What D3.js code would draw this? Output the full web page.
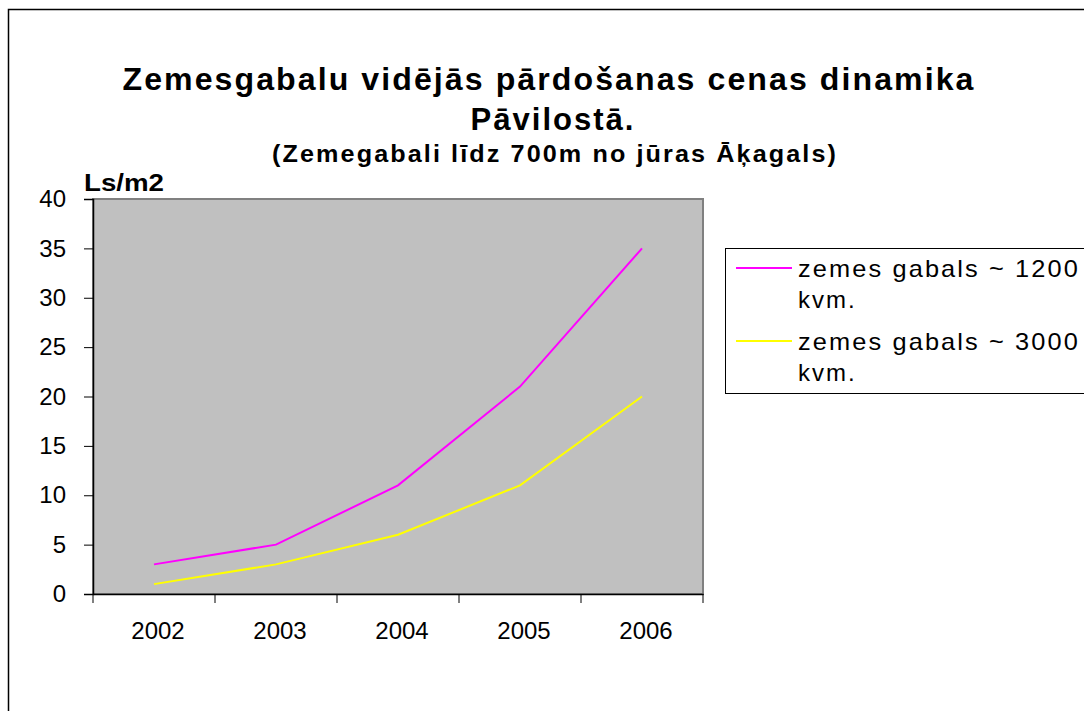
<!DOCTYPE html>
<html>
<head>
<meta charset="utf-8">
<script src="https://cdn.jsdelivr.net/npm/d3@7"></script>
<style>
  body { margin: 0; background: #fff; }
  text { font-family: "Liberation Sans", Arial, sans-serif; }
</style>
</head>
<body>
<div id="chart"></div>
<script>
let years = ["2002", "2003", "2004", "2005", "2006"];
let seriesNames = ["zemes gabals ~ 1200 kvm.", "zemes gabals ~ 3000 kvm."];
let values1200 = [3, 5, 11, 21, 35];
let values3000 = [1, 3, 6, 11, 20];
let yTicks = [0, 5, 10, 15, 20, 25, 30, 35, 40];
let seriesColors = ["#ff00ff", "#ffff00"];

let exteriorWidth  = 1084,
    exteriorHeight = 711;

let plot = { left: 93, top: 199, right: 703, bottom: 594 };

let svg =
  d3.select("#chart")
    .append("svg")
      .attr("width", exteriorWidth)
      .attr("height", exteriorHeight);

// outer chart frame (cut off at right and bottom)
svg.append("path")
    .attr("d", "M8.5,720 V9.5 H1100")
    .attr("fill", "none")
    .attr("stroke", "#000")
    .attr("stroke-width", 1.5);

// titles, stretched the way the original renders them
let titles = svg.append("g")
    .attr("font-weight", "bold")
    .attr("text-anchor", "middle")
    .attr("fill", "#000");

titles.append("text")
    .attr("x", 549).attr("y", 90)
    .attr("font-size", 31)
    .attr("letter-spacing", 2)
    .attr("textLength", 853)
    .attr("lengthAdjust", "spacingAndGlyphs")
    .text("Zemesgabalu vidējās pārdošanas cenas dinamika");

titles.append("text")
    .attr("x", 553).attr("y", 130)
    .attr("font-size", 31)
    .attr("letter-spacing", 2)
    .attr("textLength", 165)
    .attr("lengthAdjust", "spacingAndGlyphs")
    .text("Pāvilostā.");

titles.append("text")
    .attr("x", 555).attr("y", 162)
    .attr("font-size", 24)
    .attr("letter-spacing", 2)
    .attr("textLength", 566)
    .attr("lengthAdjust", "spacingAndGlyphs")
    .text("(Zemegabali līdz 700m no jūras Āķagals)");

let x = d3.scaleBand()
    .domain(years)
    .range([plot.left, plot.right]);

let y = d3.scaleLinear()
    .domain([0, 40])
    .range([plot.bottom, plot.top]);

// plot area
svg.append("rect")
    .attr("x", plot.left)
    .attr("y", plot.top)
    .attr("width", plot.right - plot.left)
    .attr("height", plot.bottom - plot.top)
    .attr("fill", "#c0c0c0")
    .attr("stroke", "#808080")
    .attr("stroke-width", 2);

// y axis
let yAxis = svg.append("g")
    .attr("transform", "translate(" + plot.left + ",0)")
    .call(d3.axisLeft(y).tickValues(yTicks).tickSize(9).tickPadding(18));
yAxis.select(".domain").attr("stroke", "#000").attr("stroke-width", 1.5);
yAxis.selectAll("text")
    .attr("font-size", 24)
    .attr("font-family", "Liberation Sans, Arial, sans-serif")
    .attr("fill", "#000");

// x axis, ticks at category boundaries
let xAxis = svg.append("g")
    .attr("transform", "translate(0," + plot.bottom + ")")
    .call(d3.axisBottom(x).tickSize(0).tickPadding(28));
xAxis.select(".domain").attr("stroke", "#000").attr("stroke-width", 1.5);
xAxis.selectAll("text")
    .attr("font-size", 24)
    .attr("dx", 4)
    .attr("font-family", "Liberation Sans, Arial, sans-serif")
    .attr("fill", "#000");
xAxis.selectAll(".boundary")
    .data(years.concat(["end"]))
    .enter()
    .append("line")
      .attr("class", "boundary")
      .attr("x1", function(d, i) { return plot.left + i * x.bandwidth(); })
      .attr("x2", function(d, i) { return plot.left + i * x.bandwidth(); })
      .attr("y1", 0)
      .attr("y2", 9)
      .attr("stroke", "#000");

svg.append("text")
    .attr("x", 84)
    .attr("y", 191)
    .attr("font-size", 24)
    .attr("font-weight", "bold")
    .attr("textLength", 80)
    .attr("lengthAdjust", "spacingAndGlyphs")
    .text("Ls/m2");

// lines
let line = d3.line()
    .x(function(d, i) { return x(years[i]) + x.bandwidth() / 2; })
    .y(function(d) { return y(d); });

let series = [values1200, values3000];

svg.selectAll(".series")
    .data(series)
    .enter()
    .append("path")
      .attr("class", "series")
      .attr("d", function(d) { return line(d); })
      .attr("fill", "none")
      .attr("stroke-width", 2)
      .attr("stroke", function(d, i) { return seriesColors[i]; });

// legend
let legend = svg.append("g");
legend.append("rect")
    .attr("x", 725.5)
    .attr("y", 248.5)
    .attr("width", 400)
    .attr("height", 145)
    .attr("fill", "#fff")
    .attr("stroke", "#000");

let entries = legend.selectAll(".entry")
    .data(seriesNames)
    .enter()
    .append("g")
      .attr("class", "entry")
      .attr("transform", function(d, i) { return "translate(0," + (i * 73) + ")"; });

entries.append("line")
    .attr("x1", 736).attr("x2", 792)
    .attr("y1", 268).attr("y2", 268)
    .attr("stroke-width", 2)
    .attr("stroke", function(d, i) { return seriesColors[i]; });

entries.append("text")
    .attr("font-size", 24)
    .attr("letter-spacing", 2)
    .attr("fill", "#000")
    .each(function(d) {
      let parts = [d.replace(" kvm.", ""), "kvm."];
      let t = d3.select(this);
      t.append("tspan").attr("x", 798).attr("y", 277)
        .attr("textLength", 282).attr("lengthAdjust", "spacingAndGlyphs")
        .text(parts[0]);
      t.append("tspan").attr("x", 798).attr("y", 308)
        .text(parts[1]);
    });
</script>
</body>
</html>
